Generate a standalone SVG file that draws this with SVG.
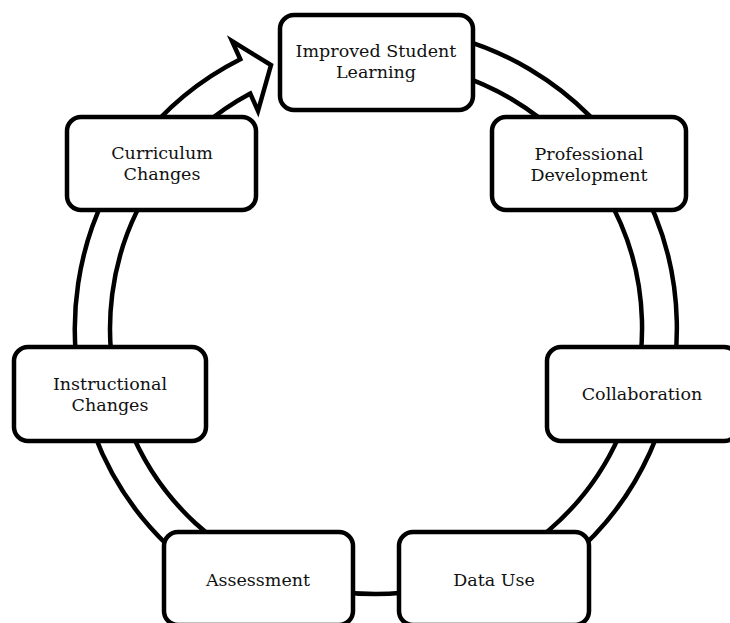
<svg xmlns="http://www.w3.org/2000/svg" width="730" height="623" viewBox="0 0 730 623">
<style>
.box{fill:#fff;stroke:#000;stroke-width:4.5}
.ring{fill:#fff;stroke:#000;stroke-width:4.5;stroke-linejoin:miter}
.lbl{font-family:"DejaVu Serif","Liberation Serif",serif;font-size:17.5px;fill:#111;text-anchor:middle}
</style>
<rect width="730" height="623" fill="#fff"/>
<g id="connectors">
<path class="ring" d="M 402.2 28.2 A 301 301 0 1 1 240.3 59.3 L 232 41 L 271 65 L 258 111 L 250.3 93.6 A 266 266 0 1 0 399.2 63 Z"/>
</g>
<g id="improved">
<rect class="box" x="280" y="15" width="193" height="95" rx="14"/>
<text class="lbl" x="376" y="57">Improved Student</text>
<text class="lbl" x="376" y="78">Learning</text>
</g>
<g id="professional">
<rect class="box" x="492" y="117" width="194" height="93" rx="14"/>
<text class="lbl" x="589" y="160">Professional</text>
<text class="lbl" x="589" y="181">Development</text>
</g>
<g id="collaboration">
<rect class="box" x="547" y="347" width="191" height="94" rx="14"/>
<text class="lbl" x="642" y="400">Collaboration</text>
</g>
<g id="datause">
<rect class="box" x="399" y="532" width="190" height="93" rx="14"/>
<text class="lbl" x="494" y="586">Data Use</text>
</g>
<g id="assessment">
<rect class="box" x="164" y="532" width="189" height="93" rx="14"/>
<text class="lbl" x="258" y="586">Assessment</text>
</g>
<g id="instructional">
<rect class="box" x="14" y="347" width="192" height="94" rx="14"/>
<text class="lbl" x="110" y="390">Instructional</text>
<text class="lbl" x="110" y="411">Changes</text>
</g>
<g id="curriculum">
<rect class="box" x="67" y="117" width="189" height="93" rx="14"/>
<text class="lbl" x="162" y="159">Curriculum</text>
<text class="lbl" x="162" y="180">Changes</text>
</g>
</svg>
